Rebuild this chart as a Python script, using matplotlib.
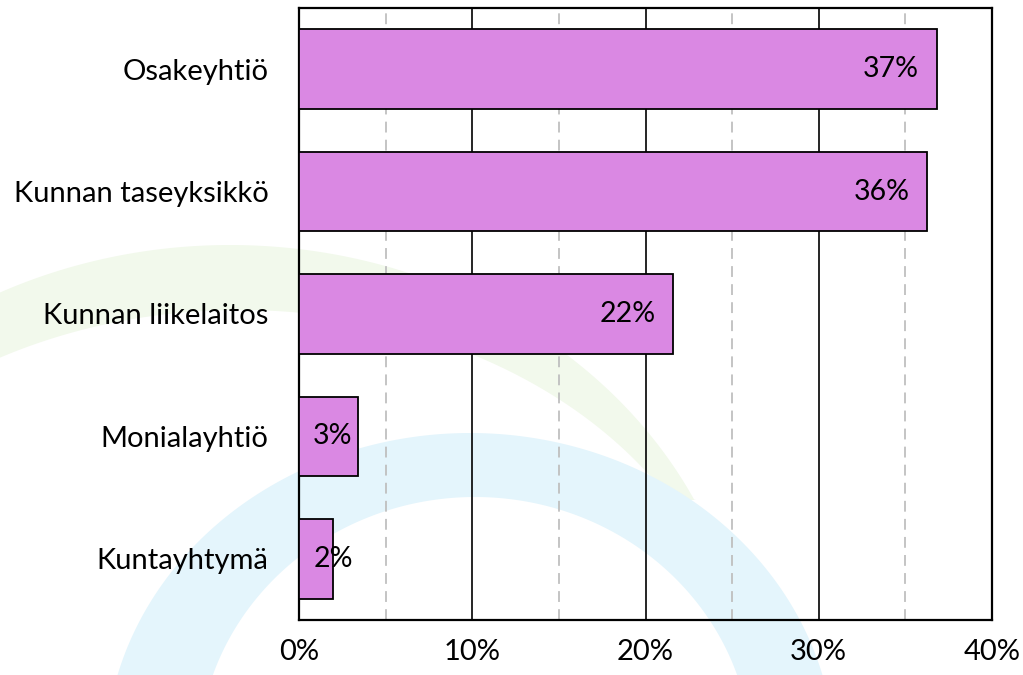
import numpy as np
import matplotlib
matplotlib.use("Agg")
import matplotlib.pyplot as plt
from matplotlib.patches import Polygon

categories = ["Osakeyhtiö", "Kunnan taseyksikkö", "Kunnan liikelaitos", "Monialayhtiö", "Kuntayhtymä"]
values = [36.8, 36.25, 21.6, 3.4, 1.95]
labels = ["37%", "36%", "22%", "3%", "2%"]
xticks = [0, 10, 20, 30, 40]
xticklabels = ["0%", "10%", "20%", "30%", "40%"]

plt.rcParams['font.family'] = ['Lato', 'DejaVu Sans']

W, H = 1023, 675
fig = plt.figure(figsize=(W / 100, H / 100), dpi=100)
fig.patch.set_facecolor("white")

# decorative background arcs (pixel coordinates, y from top)
def band(cx_o, cy_o, a_o, b_o, cx_i, cy_i, a_i, b_i, ymax):
    t = np.linspace(0, np.pi, 400)
    xo = cx_o + a_o * np.cos(t)
    yo = cy_o - b_o * np.sin(t)
    xi = cx_i + a_i * np.cos(t[::-1])
    yi = cy_i - b_i * np.sin(t[::-1])
    xs = np.concatenate([xo, xi])
    ys = np.minimum(np.concatenate([yo, yi]), ymax)
    return np.column_stack([xs, ys])

bg = fig.add_axes([0, 0, 1, 1], zorder=-5)
bg.set_xlim(0, W)
bg.set_ylim(H, 0)
bg.axis("off")
green = band(230, 700, 517, 455, 240, 700, 501, 390, 500)
blue = band(470, 760, 365, 327, 475, 760, 277, 263, 700)
bg.add_patch(Polygon(green, closed=True, facecolor="#F2F9EC", edgecolor="none"))
bg.add_patch(Polygon(blue, closed=True, facecolor="#E4F5FC", edgecolor="none"))

ax = fig.add_axes([299 / W, 1 - 620 / H, (992 - 299) / W, (620 - 8) / H], zorder=1)
ax.set_facecolor("none")

y = np.arange(len(categories))
ax.barh(y, values, height=0.65, color="#DA88E3", edgecolor="black", linewidth=1.3, zorder=3)

for v in [5, 15, 25, 35]:
    ax.axvline(v, color="#BFBFBF", linestyle=(0, (6, 4)), linewidth=1.3, zorder=1)
for v in [10, 20, 30]:
    ax.axvline(v, color="black", linewidth=1.2, zorder=1)

for yi, v, lab in zip(y, values, labels):
    ax.text(max(v - 1.0, 3.1), yi, lab, ha="right", va="center", fontsize=20.5, color="black", zorder=4)

ax.set_xlim(0, 40)
ax.set_ylim(len(categories) - 0.5, -0.5)
ax.set_yticks(y)
ax.set_yticklabels(categories, fontsize=21)
ax.set_xticks(xticks)
ax.set_xticklabels(xticklabels, fontsize=21)
ax.tick_params(axis="y", length=0, pad=22)
ax.tick_params(axis="x", length=0, pad=14)
for s in ax.spines.values():
    s.set_color("black")
    s.set_linewidth(1.6)

fig.savefig("out.png", dpi=100)
